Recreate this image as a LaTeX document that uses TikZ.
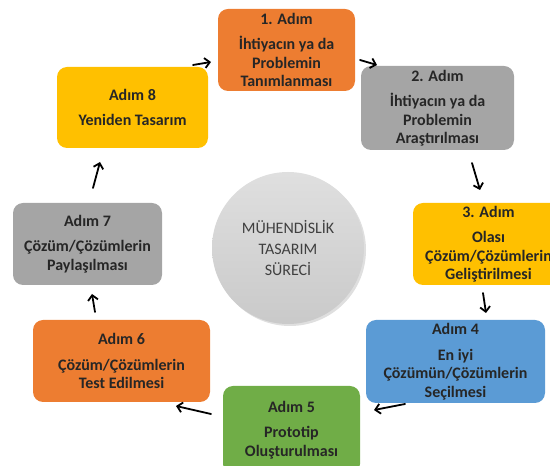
\documentclass[tikz,border=0pt]{standalone}
\usepackage{fontspec}
\setmainfont{Carlito}
\usetikzlibrary{arrows.meta, shadows}
\definecolor{stepwarm}{RGB}{237,125,49}
\definecolor{stepgrey}{RGB}{165,165,165}
\definecolor{stepgold}{RGB}{255,192,0}
\definecolor{stepblue}{RGB}{91,155,213}
\definecolor{stepgreen}{RGB}{112,173,71}
\definecolor{inktext}{RGB}{38,38,38}

\tikzset{
  stepbox/.style={rectangle, rounded corners=10pt, inner sep=0pt, align=center,
    text=inktext, font=\fontsize{16}{18.5}\selectfont\bfseries},
  flow/.style={line width=1.8pt, line cap=round, -{Straight Barb[length=5pt,width=10pt]}}
}

\begin{document}
\begin{tikzpicture}[x=1pt, y=1pt]
\useasboundingbox (0,0) rectangle (550,466);
\clip (0,0) rectangle (550,466);

% Centre circle
\node[circle, minimum size=152pt, top color=gray!25, bottom color=gray!42,
      drop shadow={opacity=0.25, shadow xshift=2pt, shadow yshift=-2pt},
      align=center, text=black!75, font=\fontsize{16}{21}\selectfont] (process) at (288,218)
  {MÜHENDİSLİK\\TASARIM\\SÜRECİ};

% Steps around it
\node[stepbox, fill=stepwarm, minimum width=137pt, minimum height=82pt] (adim1) at (286.5,416)
  {1. Adım\\[7pt]İhtiyacın ya da\\Problemin\\Tanımlanması};
\node[stepbox, fill=stepgrey, minimum width=153pt, minimum height=84pt] (adim2) at (437.5,358)
  {2. Adım\\[7pt]İhtiyacın ya da\\Problemin\\Araştırılması};
\node[stepbox, fill=stepgold, minimum width=151pt, minimum height=82pt] (adim3) at (488.5,222)
  {3. Adım\\[7pt]Olası\\Çözüm/Çözümlerin\\Geliştirilmesi};
\node[stepbox, fill=stepblue, minimum width=179pt, minimum height=83pt] (adim4) at (455.5,104.5)
  {Adım 4\\[7pt]En iyi\\Çözümün/Çözümlerin\\Seçilmesi};
\node[stepbox, fill=stepgreen, minimum width=137pt, minimum height=88pt] (adim5) at (291.5,36)
  {Adım 5\\[7pt]Prototip\\Oluşturulması};
\node[stepbox, fill=stepwarm, minimum width=177pt, minimum height=82pt] (adim6) at (121.5,105)
  {Adım 6\\[7pt]Çözüm/Çözümlerin\\Test Edilmesi};
\node[stepbox, fill=stepgrey, minimum width=149pt, minimum height=82pt] (adim7) at (87.5,222)
  {Adım 7\\[7pt]Çözüm/Çözümlerin\\Paylaşılması};
\node[stepbox, fill=stepgold, minimum width=151pt, minimum height=81pt] (adim8) at (132.5,358.5)
  {Adım 8\\[7pt]Yeniden Tasarım};

% Arrow ends
\coordinate (a1s) at (360,406); \coordinate (a1e) at (377,401);
\coordinate (a2s) at (472,303); \coordinate (a2e) at (480,276);
\coordinate (a3s) at (483,173); \coordinate (a3e) at (486,153);
\coordinate (a4s) at (405,62);  \coordinate (a4e) at (374,56);
\coordinate (a5s) at (211,52);  \coordinate (a5e) at (176,60);
\coordinate (a6s) at (95,154);  \coordinate (a6e) at (92,172);
\coordinate (a7s) at (93,278);  \coordinate (a7e) at (100,304);
\coordinate (a8s) at (193,401); \coordinate (a8e) at (211,404);

% Cycle arrows
\draw[flow] (a1s) -- (a1e);
\draw[flow] (a2s) -- (a2e);
\draw[flow] (a3s) -- (a3e);
\draw[flow] (a4s) -- (a4e);
\draw[flow] (a5s) -- (a5e);
\draw[flow] (a6s) -- (a6e);
\draw[flow] (a7s) -- (a7e);
\draw[flow] (a8s) -- (a8e);
\end{tikzpicture}
\end{document}
